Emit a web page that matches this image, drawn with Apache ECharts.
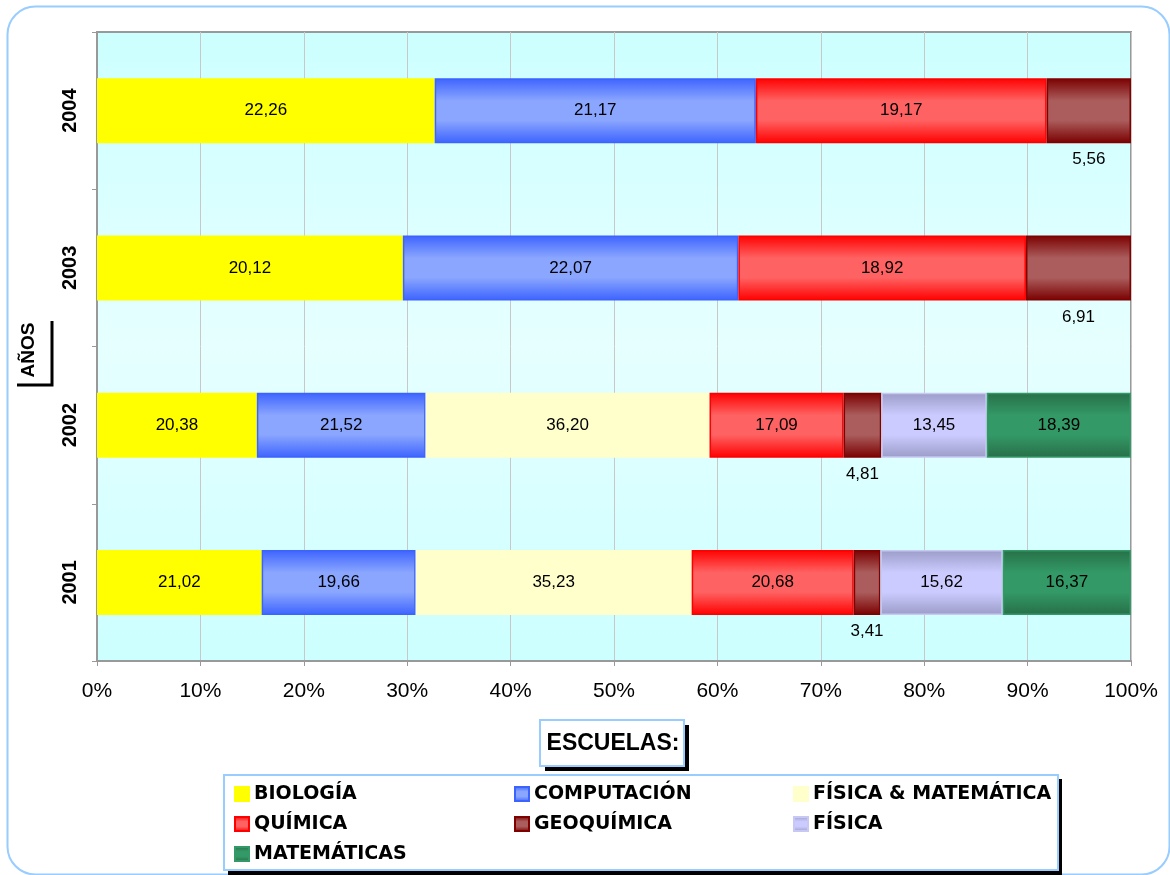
<!DOCTYPE html>
<html>
<head>
<meta charset="utf-8">
<script src="https://cdn.jsdelivr.net/npm/echarts@6/dist/echarts.min.js"></script>
<style>
  html,body{margin:0;padding:0;background:#fff}
  #chart{width:1170px;height:875px}
</style>
</head>
<body>
<div id="chart"></div>
<script>
// años (de abajo hacia arriba)
const years = ['2001', '2002', '2003', '2004']
const xTicks = ['0%','10%','20%','30%','40%','50%','60%','70%','80%','90%','100%']

// valores por escuela, en el orden de years
const biologia   = [21.02, 20.38, 20.12, 22.26]
const computacion = [19.66, 21.52, 22.07, 21.17]
const fisMat     = [35.23, 36.20, null, null]
const quimica    = [20.68, 17.09, 18.92, 19.17]
const geoquimica = [3.41, 4.81, 6.91, 5.56]
const fisica     = [15.62, 13.45, null, null]
const matematicas = [16.37, 18.39, null, null]

const seriesDefs = [
  {name:'BIOLOGÍA', vals:biologia, color:'#ffff00', border:'#ffff00'},
  {name:'COMPUTACIÓN', vals:computacion, color:['#3d63ff','#8aa6ff','#3d63ff'], border:'#3d63ff'},
  {name:'FÍSICA & MATEMÁTICA', vals:fisMat, color:'#ffffcc', border:'#ffffcc'},
  {name:'QUÍMICA', vals:quimica, color:['#ff0000','#ff6262','#ff0000'], border:'#ff0000'},
  {name:'GEOQUÍMICA', vals:geoquimica, color:['#7a0000','#ab5d5d','#7a0000'], border:'#800000', below:true},
  {name:'FÍSICA', vals:fisica, color:['#9c9cc8','#cbcbff','#9c9cc8'], border:'#c8c8f4'},
  {name:'MATEMÁTICAS', vals:matematicas, color:['#276f48','#339966','#276f48'], border:'#339966'}
]

const totals = years.map((y, i) => seriesDefs.reduce((s, d) => s + (d.vals[i] || 0), 0))

function fill(c) {
  if (typeof c === 'string') return c
  return new echarts.graphic.LinearGradient(0, 0, 0, 1, [
    {offset:0, color:c[0]}, {offset:0.35, color:c[1]}, {offset:0.65, color:c[1]}, {offset:1, color:c[2]}
  ])
}

const fmt = v => v.toFixed(2).replace('.', ',')

const series = seriesDefs.map(d => ({
  name: d.name,
  type: 'bar',
  stack: 'total',
  barWidth: 65,
  data: d.vals.map((v, i) => v == null ? '-' : v / totals[i] * 100),
  itemStyle: {color: fill(d.color), borderColor: d.border, borderWidth: 1.5},
  label: {
    show: true,
    position: d.below ? 'bottom' : 'inside',
    distance: 8,
    color: '#000',
    fontFamily: 'Liberation Sans, Arial, sans-serif',
    fontSize: 17,
    formatter: p => fmt(d.vals[p.dataIndex])
  },
  emphasis: {disabled: true}
}))

const legendText = {fontFamily:'DejaVu Sans, sans-serif', fontWeight:'bold', fontSize:19, color:'#000', lineHeight:20}
function legendCol(left, names) {
  return {
    orient:'vertical', left:left, top:784, height:91, padding:0,
    itemWidth:14, itemHeight:14, itemGap:10,
    icon:'rect', selectedMode:false, textStyle:legendText, data:names
  }
}

const chart = echarts.init(document.getElementById('chart'))
chart.setOption({
  backgroundColor:'#fff',
  animation:false,
  grid:{
    left:97, right:39, top:32, bottom:214,
    show:true, borderColor:'#999', borderWidth:2,
    backgroundColor: new echarts.graphic.LinearGradient(0,0,0,1,[
      {offset:0,color:'#ccffff'},{offset:0.5,color:'#e6ffff'},{offset:1,color:'#ccffff'}
    ])
  },
  xAxis:{
    type:'value', min:0, max:100, interval:10,
    axisLine:{show:true, lineStyle:{color:'#999', width:2}},
    axisTick:{show:true, length:5, lineStyle:{color:'#999'}},
    splitLine:{show:true, lineStyle:{color:'#c8c8c8', width:1}},
    axisLabel:{
      margin:20, color:'#000', fontFamily:'Liberation Sans, Arial, sans-serif', fontSize:21,
      formatter: v => xTicks[Math.round(v / 10)]
    }
  },
  yAxis:{
    type:'category', data:years,
    axisLine:{show:true, lineStyle:{color:'#999', width:2}},
    axisTick:{show:true, length:5, lineStyle:{color:'#999'}},
    axisLabel:{
      rotate:90, margin:17, color:'#000', fontWeight:'bold',
      fontFamily:'Liberation Sans, Arial, sans-serif', fontSize:20
    }
  },
  legend:[
    legendCol(234, ['BIOLOGÍA','QUÍMICA','MATEMÁTICAS']),
    legendCol(514, ['COMPUTACIÓN','GEOQUÍMICA']),
    legendCol(793, ['FÍSICA & MATEMÁTICA','FÍSICA'])
  ],
  graphic:[
    // marco exterior redondeado
    {type:'rect', z:-10, silent:true, shape:{x:7.5, y:6.5, width:1162, height:868, r:28},
     style:{fill:'none', stroke:'#99ccff', lineWidth:2}},
    // etiqueta AÑOS con sombra
    {type:'polyline', silent:true, shape:{points:[[52,321],[52,385],[17,385]]},
     style:{stroke:'#000', lineWidth:3, fill:'none'}},
    {type:'text', silent:true, x:29, y:350, rotation:Math.PI/2,
     style:{text:'AÑOS', align:'center', verticalAlign:'middle', fill:'#000',
            font:'bold 19px "Liberation Sans", Arial, sans-serif'}},
    // caja ESCUELAS
    {type:'rect', silent:true, shape:{x:545, y:725, width:144, height:46}, style:{fill:'#000'}},
    {type:'rect', silent:true, shape:{x:540, y:720, width:144, height:46},
     style:{fill:'#fff', stroke:'#99ccff', lineWidth:2}},
    {type:'text', silent:true, x:613, y:744,
     style:{text:'ESCUELAS:', align:'center', verticalAlign:'middle', fill:'#000',
            font:'bold 23px "Liberation Sans", Arial, sans-serif'}},
    // caja de la leyenda
    {type:'rect', silent:true, z:-1, shape:{x:228, y:779, width:834, height:96}, style:{fill:'#000'}},
    {type:'rect', silent:true, z:-1, shape:{x:224, y:775, width:834, height:95},
     style:{fill:'#fff', stroke:'#99ccff', lineWidth:2}}
  ],
  series: series
})
</script>
</body>
</html>
